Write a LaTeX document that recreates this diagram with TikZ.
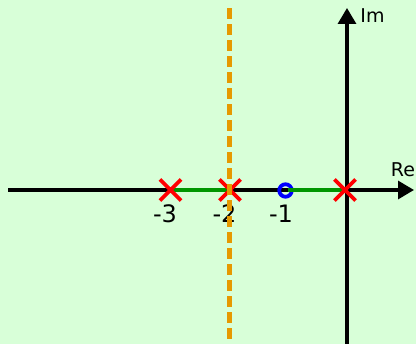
\documentclass[tikz,border=0pt]{standalone}
\usepackage{fontspec}
\setmainfont{DejaVu Sans}
\usetikzlibrary{arrows.meta,shapes.misc}
\definecolor{bg}{RGB}{216,255,216}
\definecolor{rootgreen}{RGB}{0,150,0}
\definecolor{asym}{RGB}{230,153,0}
\tikzset{
  axis/.style={line width=3.2pt,-{Triangle[length=16pt,width=18pt]}},
  locus/.style={rootgreen,line width=4.7pt},
  polemark/.style={cross out,draw=red,line width=3.6pt,minimum size=17.5pt,inner sep=0pt},
  zeromark/.style={circle,draw=blue,line width=3.8pt,minimum size=12.5pt,inner sep=0pt},
  ticklab/.style={font=\fontsize{24}{26}\selectfont,inner sep=0pt},
  axlab/.style={font=\fontsize{19}{21}\selectfont,inner sep=0pt},
  asymline/.style={asym,line width=5pt,dash pattern=on 10.7pt off 5.3pt}
}
\begin{document}
\begin{tikzpicture}[x=1pt,y=-1pt]
\fill[bg] (0,0) rectangle (416,344);
\useasboundingbox (0,0) rectangle (416,344);
% coordinates
\coordinate (xl) at (8,190);
\coordinate (xr) at (414,190);
\coordinate (yb) at (347,345);
\coordinate (yt) at (347,8);
\coordinate (p3) at (170.5,190);
\coordinate (p2) at (230,190);
\coordinate (p1) at (285.5,190.5);
\coordinate (p0) at (345,190);
\coordinate (at) at (229.5,8.3);
\coordinate (ab) at (229.5,345);
% axes
\draw[axis] (xl) -- (xr);
\draw[axis] (yb) -- (yt);
\node[axlab] (im) at (372.5,16) {Im};
\node[axlab] (re) at (403,170) {Re};
% zero
\node[zeromark] (z1) at (p1) {};
% locus
\draw[locus] (p3) -- (p2);
\draw[locus] (288,190) -- (p0);
% poles
\node[polemark] (x3) at (p3) {};
\node[polemark] (x2) at (p2) {};
\node[polemark] (x0) at (p0) {};
% labels
\node[ticklab] (l3) at (165,213.5) {-3};
\node[ticklab] (l2) at (224.5,213.5) {-2};
\node[ticklab] (l1) at (281,213.5) {-1};
% asymptote
\draw[asymline] (at) -- (ab);
\end{tikzpicture}
\end{document}
